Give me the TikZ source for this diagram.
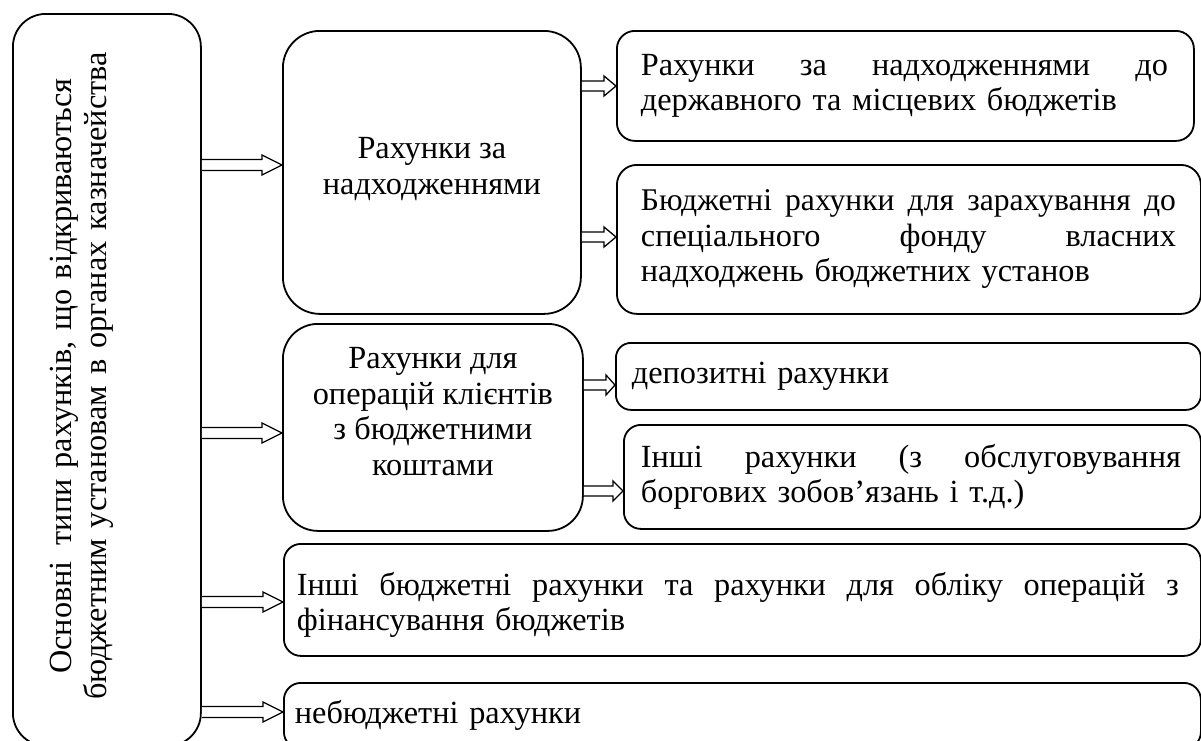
\documentclass[tikz,border=0pt]{standalone}
\usepackage{fontspec}
\setmainfont{Liberation Serif}
\usetikzlibrary{calc}
\newcommand\txtfont{\fontsize{32.3}{35.5}\selectfont}
\tikzset{
  box/.style={draw=black, line width=1.8pt, fill=white, inner sep=0pt, anchor=north west,
    font=\txtfont},
  arrowline/.style={draw=black, line width=1.3pt, line join=miter, fill=white},
}
\newcommand\jline[2]{\makebox[#1][s]{\spaceskip=0pt\xspaceskip=0pt\relax #2}}
\newcommand\cbox[4]{\parbox[c][#1][t]{#2}{\vspace*{#3}\centering\txtfont #4}}
\newcommand\dblarrow[5]{% from, to, head length, shaft half, head half
  \draw[arrowline] let \p1=(#1), \p2=(#2) in
    (\x1,\y1+#4) -- (\x2-#3,\y1+#4) -- (\x2-#3,\y1+#5) -- (\x2,\y1)
    -- (\x2-#3,\y1-#5) -- (\x2-#3,\y1-#4) -- (\x1,\y1-#4);}
\begin{document}
\begin{tikzpicture}[x=1pt,y=-1pt]
\useasboundingbox (0,0) rectangle (1201,740);

% left box (rotated text)
\node[box, rounded corners=33pt, minimum width=188pt, minimum height=732pt] (L) at (12,13) {};
\node[font=\txtfont, rotate=90, text width=720pt, align=center, inner sep=0pt]
  (Lt) at (82,376) {Основні\hspace{16pt}типи рахунків, що відкриваються\\бюджетним установам в органах казначейства};

\node[box, rounded corners=37pt, minimum width=298pt, minimum height=283pt] (b1) at (282,30)
  {\cbox{283pt}{298pt}{103pt}{\strut Рахунки за\\\strut надходженнями}};
\node[box, rounded corners=18pt, minimum width=577pt, minimum height=110pt, text width=529pt, align=left] (b2) at (616,30)
  {\jline{527pt}{Рахунки за надходженнями до}\\державного та місцевих бюджетів};
\node[box, rounded corners=20pt, minimum width=584pt, minimum height=149pt, text width=536pt, align=left] (b3) at (616,164)
  {\jline{535pt}{\fontsize{31.6}{35.5}\selectfont Бюджетні рахунки для зарахування до}\\\jline{535pt}{спеціального фонду власних}\\надходжень бюджетних установ};
\node[box, rounded corners=35pt, minimum width=300pt, minimum height=207pt] (b4) at (282,323)
  {\cbox{207pt}{300pt}{20pt}{\strut Рахунки для\\\strut операцій клієнтів\\\strut з бюджетними\\\strut коштами}};
\node[box, rounded corners=15pt, minimum width=585pt, minimum height=67pt, text width=553pt, align=left] (b5) at (615,342)
  {депозитні рахунки};
\node[box, rounded corners=17pt, minimum width=577pt, minimum height=104pt, text width=543pt, align=left] (b6) at (623,424)
  {\jline{540pt}{Інші рахунки (з обслуговування}\\боргових зобов’язань і т.д.)};
\node[box, rounded corners=17pt, minimum width=917pt, minimum height=112pt, text width=891pt, align=left] (b7) at (283,543)
  {\rule{0pt}{33pt}\jline{882pt}{Інші бюджетні рахунки та рахунки для обліку операцій з}\\фінансування бюджетів};
\node[box, rounded corners=17pt, minimum width=917pt, minimum height=66pt, text width=895pt, align=left] (b8) at (283,682)
  {небюджетні рахунки};

% arrows
\dblarrow{L.east |- 0,165}{b1.west |- 0,165}{20pt}{5.5pt}{10pt}
\dblarrow{L.east |- 0,433}{b4.west |- 0,433}{20pt}{5.5pt}{10pt}
\dblarrow{L.east |- 0,602}{b7.west |- 0,602}{20pt}{5.5pt}{10pt}
\dblarrow{L.east |- 0,712}{b8.west |- 0,712}{20pt}{5.5pt}{10pt}
\dblarrow{b1.east |- 0,86}{b2.west |- 0,86}{12pt}{5pt}{10pt}
\dblarrow{b1.east |- 0,237}{b3.west |- 0,237}{12pt}{5pt}{10pt}
\dblarrow{b4.east |- 0,385}{b5.west |- 0,385}{9pt}{5pt}{10pt}
\dblarrow{b4.east |- 0,491}{b6.west |- 0,491}{10pt}{5pt}{10pt}
\end{tikzpicture}
\end{document}
